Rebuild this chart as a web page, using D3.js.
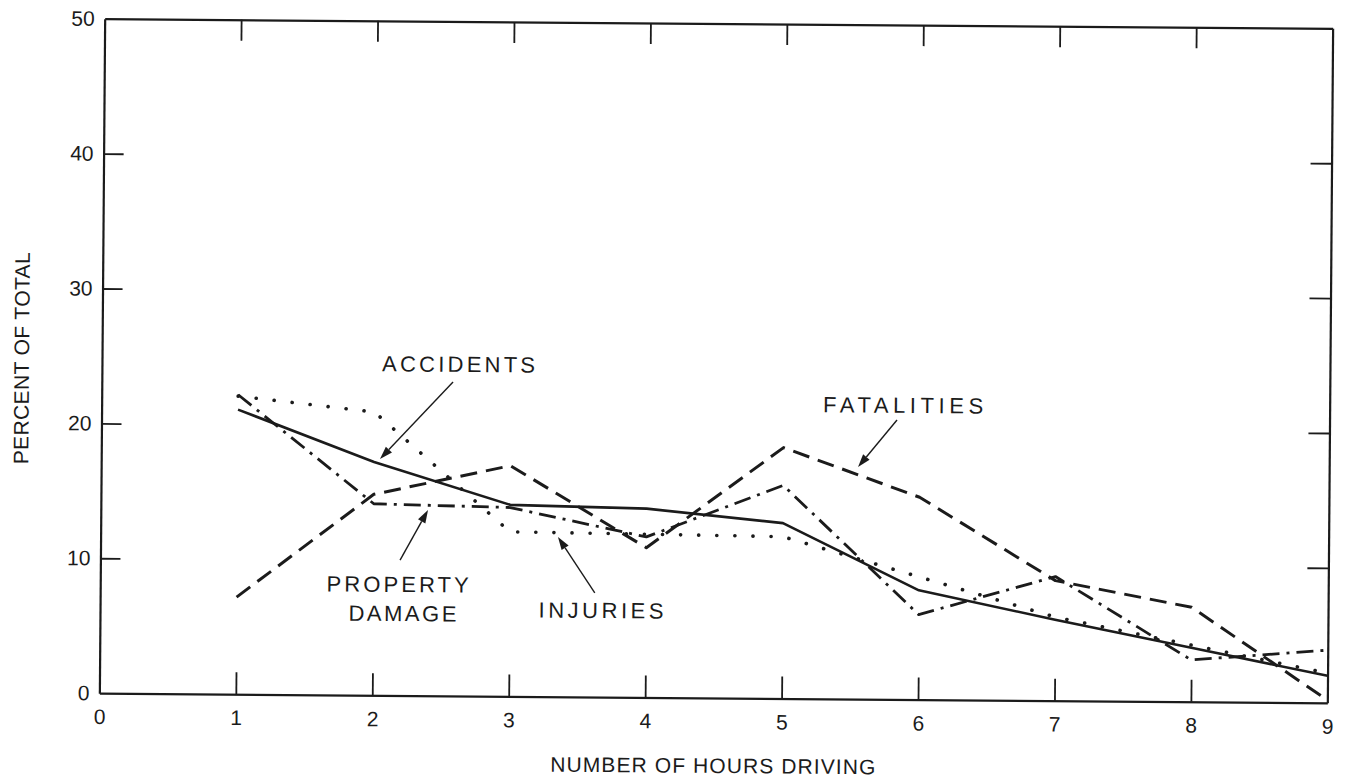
<!DOCTYPE html>
<html>
<head>
<meta charset="utf-8">
<script src="https://cdn.jsdelivr.net/npm/d3@7"></script>
<style>
  html, body { margin: 0; padding: 0; background: #fff; }
  svg { display: block; }
  text { font-family: "Liberation Sans", Arial, sans-serif; fill: #1b1b1b; }
</style>
</head>
<body>
<svg id="chart" width="1349" height="784"></svg>
<script>
// Share of accidents, injuries, property damage and fatalities by hours of driving
const hours = [1, 2, 3, 4, 5, 6, 7, 8, 9];
const accidents      = [21.1, 17.3, 14.2, 14.0, 13.0, 8.1, 6.0, 4.0, 2.0];
const injuries       = [22.1, 21.0, 12.2, 12.1, 12.0, 9.1, 6.2, 4.2, 2.2];
const propertyDamage = [22.2, 14.2, 14.0, 11.9, 15.8, 6.3, 9.2, 3.1, 3.9];
const fatalities     = [7.2, 14.9, 17.1, 11.1, 18.6, 15.0, 8.9, 7.0, 0.2];

const xTickValues = [0, 1, 2, 3, 4, 5, 6, 7, 8, 9];
const yTickValues = [0, 10, 20, 30, 40, 50];
const xInnerTicks = [1, 2, 3, 4, 5, 6, 7, 8];
const yInnerTicks = [10, 20, 30, 40];

const xTitle = "NUMBER OF HOURS DRIVING";
const yTitle = "PERCENT OF TOTAL";

const W = 1349, H = 784;
const plotLeft = 102, plotRight = 1330, plotTop = 23.5, plotBottom = 698;

const x = d3.scaleLinear().domain([0, 9]).range([plotLeft, plotRight]);
const y = d3.scaleLinear().domain([0, 50]).range([plotBottom, plotTop]);

const svg = d3.select("#chart");
svg.append("rect").attr("width", W).attr("height", H).attr("fill", "#fff");

// the printed plate sits slightly turned on the page
const g = svg.append("g").attr("transform", "rotate(0.45 716 361)");

const ink = "#1b1b1b";

// ---- frame and ticks ----
g.append("g").attr("transform", `translate(0,${plotBottom})`)
  .call(d3.axisBottom(x).tickValues(xTickValues).tickSizeInner(0).tickSizeOuter(0)
        .tickPadding(16).tickFormat(d3.format("d")));
g.append("g").attr("transform", `translate(${plotLeft},0)`)
  .call(d3.axisLeft(y).tickValues(yTickValues).tickSizeInner(0).tickSizeOuter(0)
        .tickPadding(10).tickFormat(d3.format("d")));
g.append("g").attr("transform", `translate(0,${plotTop})`)
  .call(d3.axisTop(x).tickValues(xInnerTicks).tickSizeInner(-21).tickSizeOuter(0).tickFormat(""));
g.append("g").attr("transform", `translate(${plotRight},0)`)
  .call(d3.axisRight(y).tickValues(yInnerTicks).tickSizeInner(-21).tickSizeOuter(0).tickFormat(""));
// inner tick marks along the bottom and left edges
g.append("g").attr("transform", `translate(0,${plotBottom})`)
  .call(d3.axisBottom(x).tickValues(xInnerTicks).tickSizeInner(-22).tickSizeOuter(0).tickFormat(""))
  .select(".domain").remove();
g.append("g").attr("transform", `translate(${plotLeft},0)`)
  .call(d3.axisLeft(y).tickValues(yInnerTicks).tickSizeInner(-20).tickSizeOuter(0).tickFormat(""))
  .select(".domain").remove();

g.selectAll(".domain").attr("stroke", ink).attr("stroke-width", 2.2);
g.selectAll(".tick line").attr("stroke", ink).attr("stroke-width", 1.8);
g.selectAll(".tick text")
  .attr("fill", ink)
  .style("font-family", '"Liberation Sans", Arial, sans-serif')
  .style("font-size", "21px");

// ---- axis titles ----
g.append("text")
  .attr("x", (plotLeft + plotRight) / 2).attr("y", plotBottom + 75)
  .attr("text-anchor", "middle")
  .attr("textLength", 325).attr("lengthAdjust", "spacing")
  .style("font-size", "21px")
  .text(xTitle);
g.append("text")
  .attr("transform", `translate(29,${(plotTop + plotBottom) / 2 + 3}) rotate(-90)`)
  .attr("text-anchor", "middle")
  .attr("textLength", 212).attr("lengthAdjust", "spacing")
  .style("font-size", "21px")
  .text(yTitle);

// ---- series ----
const line = d3.line().x(d => x(d.h)).y(d => y(d.v));
const series = [
  { name: "accidents", values: accidents, dash: null, width: 2.6, cap: "butt" },
  { name: "injuries", values: injuries, dash: "0.1,18", width: 3.6, cap: "round" },
  { name: "propertyDamage", values: propertyDamage, dash: "17,7,3,7", width: 2.8, cap: "butt" },
  { name: "fatalities", values: fatalities, dash: "17,9", width: 3, cap: "butt" }
];
g.append("g").selectAll("path")
  .data(series)
  .join("path")
  .attr("class", d => "series " + d.name)
  .attr("d", d => line(hours.map((h, i) => ({ h, v: d.values[i] }))))
  .attr("fill", "none")
  .attr("stroke", ink)
  .attr("stroke-width", d => d.width)
  .attr("stroke-linecap", d => d.cap)
  .attr("stroke-linejoin", "round")
  .attr("stroke-dasharray", d => d.dash);

// ---- callout labels with arrows (positions in hours / percent) ----
const callouts = [
  { lines: ["ACCIDENTS"], lens: [153], at: [2.614, 24.02], from: [2.574, 23.27], to: [2.043, 17.52] },
  { lines: ["FATALITIES"], lens: [160], at: [5.874, 21.24], from: [5.83, 20.71], to: [5.547, 17.21] },
  { lines: ["PROPERTY", "DAMAGE"], lens: [142, 108], at: [2.18, 7.67], from: [2.196, 10.04], to: [2.398, 13.77] },
  { lines: ["INJURIES"], lens: [125], at: [3.672, 5.86], from: [3.625, 7.72], to: [3.352, 11.85] }
];

const cg = g.append("g").attr("class", "callouts");
callouts.forEach(c => {
  c.lines.forEach((t, i) => {
    cg.append("text")
      .attr("x", x(c.at[0]) + (i ? 5 : 0))
      .attr("y", y(c.at[1]) + i * 29)
      .attr("text-anchor", "middle")
      .attr("textLength", c.lens[i]).attr("lengthAdjust", "spacing")
      .style("font-size", "22px")
      .text(t);
  });
  const x1 = x(c.from[0]), y1 = y(c.from[1]);
  const x2 = x(c.to[0]), y2 = y(c.to[1]);
  const ang = Math.atan2(y2 - y1, x2 - x1);
  const headLen = 13, headHalf = 4.2;
  const bx = x2 - headLen * Math.cos(ang), by = y2 - headLen * Math.sin(ang);
  cg.append("line")
    .attr("x1", x1).attr("y1", y1).attr("x2", bx).attr("y2", by)
    .attr("stroke", ink).attr("stroke-width", 1.4);
  const px = -Math.sin(ang) * headHalf, py = Math.cos(ang) * headHalf;
  cg.append("path")
    .attr("d", `M${x2},${y2}L${bx + px},${by + py}L${bx - px},${by - py}Z`)
    .attr("fill", ink);
});
</script>
</body>
</html>
